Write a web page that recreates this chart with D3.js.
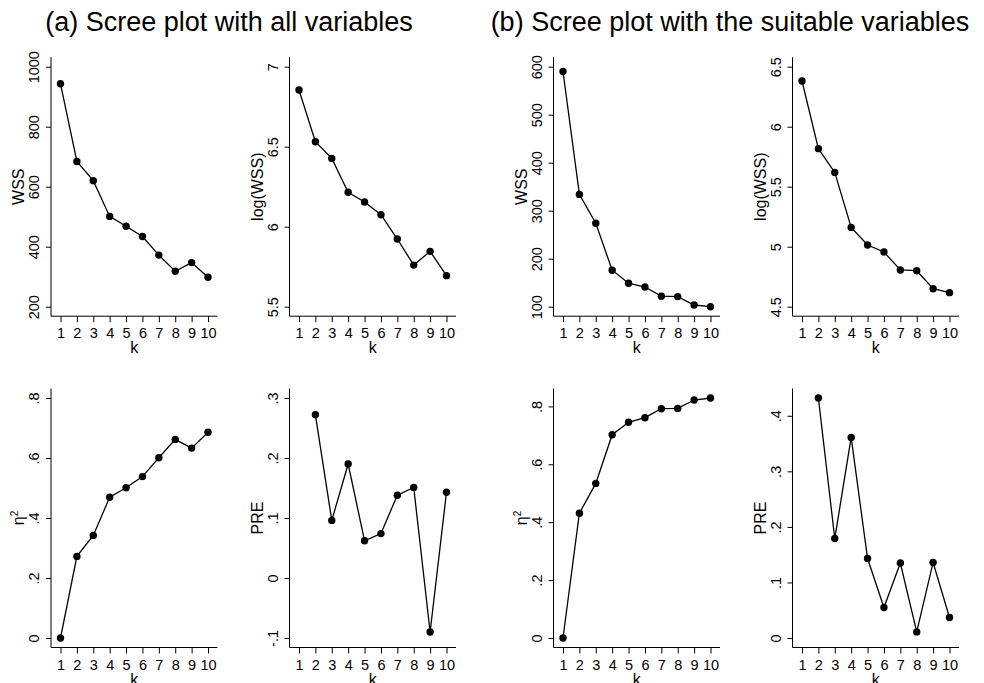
<!DOCTYPE html>
<html>
<head>
<meta charset="utf-8">
<script src="https://cdn.jsdelivr.net/npm/d3@7"></script>
<style>
  body { margin: 0; background: #fff; }
  svg { display: block; font-family: "Liberation Sans", Arial, Helvetica, sans-serif; }
</style>
</head>
<body>
<div id="chart"></div>
<script>
// data
var k = [1, 2, 3, 4, 5, 6, 7, 8, 9, 10];

var wss_all     = [943, 684, 620, 501, 468, 434, 372, 318, 347, 298];
var logwss_all  = [6.854, 6.531, 6.427, 6.215, 6.154, 6.075, 5.923, 5.760, 5.846, 5.694];
var eta_all     = [0, 0.272, 0.342, 0.469, 0.501, 0.538, 0.601, 0.662, 0.633, 0.686];
var pre_all     = [null, 0.272, 0.096, 0.190, 0.062, 0.074, 0.138, 0.151, -0.090, 0.143];

var wss_suit    = [590, 334, 274, 176, 149, 141, 122, 121, 103.5, 100];
var logwss_suit = [6.381, 5.817, 5.619, 5.161, 5.014, 4.956, 4.806, 4.800, 4.650, 4.617];
var eta_suit    = [0, 0.431, 0.534, 0.702, 0.745, 0.761, 0.792, 0.793, 0.822, 0.829];
var pre_suit    = [null, 0.432, 0.179, 0.361, 0.143, 0.055, 0.135, 0.011, 0.136, 0.037];

// tick labels
var wss_all_ticks     = [200, 400, 600, 800, 1000];
var logwss_all_ticks  = [5.5, 6, 6.5, 7];
var eta_all_ticks     = [0, 0.2, 0.4, 0.6, 0.8];
var pre_all_ticks     = [-0.1, 0, 0.1, 0.2, 0.3];
var wss_suit_ticks    = [100, 200, 300, 400, 500, 600];
var logwss_suit_ticks = [4.5, 5, 5.5, 6, 6.5];
var eta_suit_ticks    = [0, 0.2, 0.4, 0.6, 0.8];
var pre_suit_ticks    = [0, 0.1, 0.2, 0.3, 0.4];

var titles = ['(a) Scree plot with all variables', '(b) Scree plot with the suitable variables'];

// layout
var width = 984, height = 683;
var col_x = [51, 289.5, 553.5, 792.5];   // y-axis line position per column
var row_y = [[66.7, 306.7], [398, 638]];  // inner top / bottom per row
var pad = 9.5, inner_w = 147.5;
var tick_font = 14.5, title_font = 16;

var svg = d3.select('#chart').append('svg')
	.attr('width', width)
	.attr('height', height);

// stata-like label: .8 instead of 0.8
function fmt(v) {
	return String(+v.toFixed(3)).replace(/^(-?)0\./, '$1.');
}

var panels = [
	{col: 0, row: 0, values: wss_all,     ticks: wss_all_ticks,     label: 'WSS'},
	{col: 1, row: 0, values: logwss_all,  ticks: logwss_all_ticks,  label: 'log(WSS)'},
	{col: 2, row: 0, values: wss_suit,    ticks: wss_suit_ticks,    label: 'WSS'},
	{col: 3, row: 0, values: logwss_suit, ticks: logwss_suit_ticks, label: 'log(WSS)'},
	{col: 0, row: 1, values: eta_all,     ticks: eta_all_ticks,     label: 'eta'},
	{col: 1, row: 1, values: pre_all,     ticks: pre_all_ticks,     label: 'PRE'},
	{col: 2, row: 1, values: eta_suit,    ticks: eta_suit_ticks,    label: 'eta'},
	{col: 3, row: 1, values: pre_suit,    ticks: pre_suit_ticks,    label: 'PRE'}
];

function draw_panel(p) {
	var ox = col_x[p.col];
	var top = row_y[p.row][0], bottom = row_y[p.row][1];

	var x = d3.scaleLinear().domain([1, 10]).range([ox + pad, ox + pad + inner_w]);
	var all_vals = p.values.filter(function(d) { return d != null; }).concat(p.ticks);
	var y = d3.scaleLinear().domain(d3.extent(all_vals)).range([bottom, top]);

	var g = svg.append('g').attr('class', 'panel');
	var axis_bottom = bottom + pad;
	var axis_top = top - pad;
	var axis_right = ox + pad * 2 + inner_w;

	// y axis
	var ya = g.append('g')
		.attr('transform', 'translate(' + ox + ',0)')
		.call(d3.axisLeft(y).tickValues(p.ticks).tickSize(5).tickSizeOuter(0).tickFormat(fmt));
	ya.select('.domain').remove();
	ya.selectAll('.tick line').attr('stroke', '#000');
	ya.selectAll('.tick text')
		.attr('x', 0).attr('dy', 0)
		.attr('transform', 'translate(-12,0) rotate(-90)')
		.attr('text-anchor', 'middle')
		.attr('font-size', tick_font)
		.attr('fill', '#000');
	g.append('line')
		.attr('x1', ox).attr('x2', ox)
		.attr('y1', axis_top).attr('y2', axis_bottom)
		.attr('stroke', '#000').attr('stroke-width', 1);

	// x axis
	var xa = g.append('g')
		.attr('transform', 'translate(0,' + axis_bottom + ')')
		.call(d3.axisBottom(x).tickValues(k).tickSize(6).tickSizeOuter(0).tickFormat(d3.format('d')));
	xa.select('.domain').remove();
	xa.selectAll('.tick line').attr('stroke', '#000');
	xa.selectAll('.tick text')
		.attr('y', 0).attr('dy', 0)
		.attr('transform', 'translate(0,22)')
		.attr('font-size', tick_font)
		.attr('fill', '#000');
	g.append('line')
		.attr('x1', ox).attr('x2', axis_right)
		.attr('y1', axis_bottom).attr('y2', axis_bottom)
		.attr('stroke', '#000').attr('stroke-width', 1);

	// axis titles
	g.append('text')
		.attr('x', (ox + axis_right) / 2)
		.attr('y', axis_bottom + 37)
		.attr('text-anchor', 'middle')
		.attr('font-size', title_font)
		.text('k');

	var yt = g.append('text')
		.attr('transform', 'translate(' + (ox - 27) + ',' + ((top + bottom) / 2) + ') rotate(-90)')
		.attr('text-anchor', 'middle')
		.attr('font-size', title_font);
	if (p.label === 'eta') {
		yt.append('tspan').text('η');
		yt.append('tspan').attr('font-size', 10).attr('dy', -6).text('2');
	} else {
		yt.text(p.label);
	}

	// series
	var pts = k.map(function(d, i) { return {k: d, v: p.values[i]}; })
		.filter(function(d) { return d.v != null; });

	g.append('path')
		.datum(pts)
		.attr('fill', 'none')
		.attr('stroke', '#000')
		.attr('stroke-width', 1.3)
		.attr('d', d3.line()
			.x(function(d) { return x(d.k); })
			.y(function(d) { return y(d.v); }));

	g.selectAll('circle')
		.data(pts)
		.enter().append('circle')
		.attr('cx', function(d) { return x(d.k); })
		.attr('cy', function(d) { return y(d.v); })
		.attr('r', 3.7)
		.attr('fill', '#000');
}

panels.forEach(draw_panel);

// titles
svg.append('text')
	.attr('x', 229).attr('y', 31)
	.attr('text-anchor', 'middle')
	.attr('font-size', 27)
	.text(titles[0]);
svg.append('text')
	.attr('x', 730).attr('y', 31)
	.attr('text-anchor', 'middle')
	.attr('font-size', 27)
	.text(titles[1]);
</script>
</body>
</html>
